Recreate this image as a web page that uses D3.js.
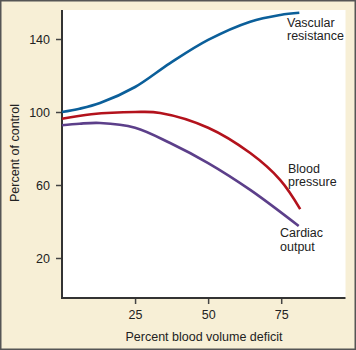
<!DOCTYPE html>
<html><head><meta charset="utf-8">
<script src="https://cdn.jsdelivr.net/npm/d3@7"></script>
<style>html,body{margin:0;padding:0;background:#f7efd6;}svg{display:block;}</style>
</head><body>
<svg id="c" width="356" height="350"></svg>
<script>
const xTicks = [25, 50, 75];
const yTicks = [20, 60, 100, 140];
const deficit = [0, 6, 13, 25, 37, 50, 64.4, 74.7, 81.2];
const vascular = [100, 101.8, 104.9, 113.7, 126.8, 139.5, 149.5, 153.2, 154.4];
const deficitBP = [0, 10, 25, 33.6, 50, 64.4, 74.7, 81.5];
const pressure = [96.3, 98.8, 100, 99.5, 91.4, 77.5, 62.7, 46.8];
const deficitCO = [0, 6, 13, 25, 37, 50, 64.4, 81];
const cardiac = [92.7, 93.6, 94, 91.4, 83, 72, 57.3, 37.5];
const seriesNames = [["Vascular", "resistance"], ["Blood", "pressure"], ["Cardiac", "output"]];
const colors = ["#0b5f9a", "#b3121c", "#5c3f8a"];

const svg = d3.select("#c");
const W = 356, H = 350;
svg.append("rect").attr("x", 0.75).attr("y", 0.75).attr("width", W - 1.5).attr("height", H - 1.5)
  .attr("fill", "#f7efd6").attr("stroke", "#555").attr("stroke-width", 1.5);

const mLeft = 62, mRight = 345.5, mTop = 10, mBottom = 298;
const x = d3.scaleLinear().domain([0, 97]).range([mLeft, mRight]);
const y = d3.scaleLinear().domain([20, 140]).range([258, 39]);

svg.append("rect").attr("x", mLeft).attr("y", mTop).attr("width", mRight - mLeft).attr("height", mBottom - mTop).attr("fill", "#fff");

const font = "Liberation Sans, Arial, sans-serif";
const xAxis = svg.append("g").attr("transform", `translate(0,${mBottom})`)
  .call(d3.axisBottom(x).tickValues(xTicks).tickSize(6).tickPadding(6).tickFormat(d3.format("d")));
xAxis.select(".domain").remove();
xAxis.selectAll("line").attr("stroke", "#444").attr("stroke-width", 1.5);
xAxis.selectAll("text").attr("font-family", font).attr("font-size", 12.5).attr("fill", "#222");

const yAxis = svg.append("g").attr("transform", `translate(${mLeft},0)`)
  .call(d3.axisLeft(y).tickValues(yTicks).tickSize(6).tickPadding(6).tickFormat(d3.format("d")));
yAxis.select(".domain").remove();
yAxis.selectAll("line").attr("stroke", "#444").attr("stroke-width", 1.5);
yAxis.selectAll("text").attr("font-family", font).attr("font-size", 12.5).attr("fill", "#222");

svg.append("path").attr("d", `M${mLeft},${mTop}V${mBottom}H${mRight}`).attr("fill", "none")
  .attr("stroke", "#333").attr("stroke-width", 2);

const line = d3.line().curve(d3.curveCatmullRom.alpha(0.5));
const sets = [[deficit, vascular], [deficitBP, pressure], [deficitCO, cardiac]];
sets.forEach(([xs, ys], i) => {
  svg.append("path").attr("d", line(xs.map((d, j) => [x(d), y(ys[j])])))
    .attr("fill", "none").attr("stroke", colors[i]).attr("stroke-width", 2.6);
});

const labelPos = [[287, 26.5], [288, 172.5], [280, 237]];
seriesNames.forEach((lines, i) => {
  const t = svg.append("text").attr("font-family", font).attr("font-size", 12.5).attr("fill", "#222");
  lines.forEach((s, k) => t.append("tspan").attr("x", labelPos[i][0]).attr("y", labelPos[i][1] + k * 13.5).text(s));
});

svg.append("text").attr("x", 204).attr("y", 341).attr("text-anchor", "middle")
  .attr("font-family", font).attr("font-size", 12.5).attr("fill", "#222").text("Percent blood volume deficit");
svg.append("text").attr("transform", "translate(18.5,153) rotate(-90)").attr("text-anchor", "middle")
  .attr("font-family", font).attr("font-size", 12.5).attr("fill", "#222").text("Percent of control");
</script>
</body></html>
